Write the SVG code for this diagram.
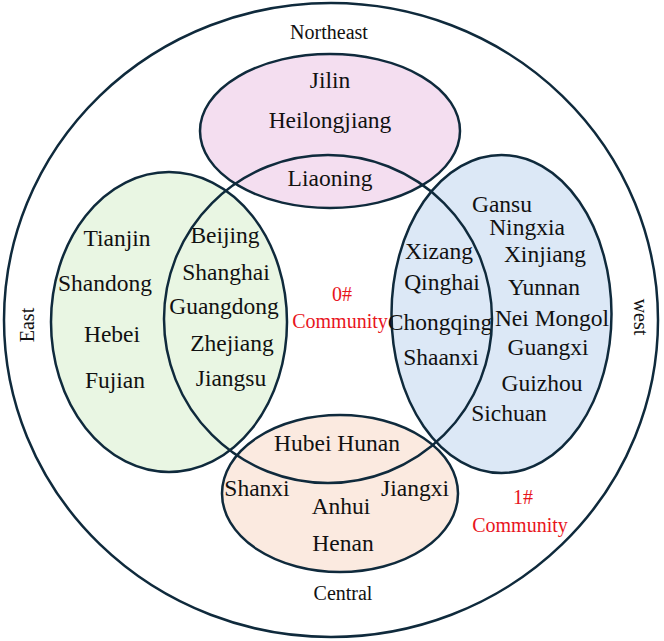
<svg xmlns="http://www.w3.org/2000/svg" width="664" height="641" viewBox="0 0 664 641">
<style>
.e{stroke:#0F2A3C;stroke-width:2.5}
text{font-family:'Liberation Serif','Times New Roman','DejaVu Serif',serif;text-anchor:middle}
.p{font-size:23.5px;fill:#111}
.l{font-size:20px;fill:#111}
.r{font-size:20px;fill:#E8141C}
</style>
<rect width="664" height="641" fill="#fff"/>
<g id="community1" font-family="Liberation Serif, serif">
<ellipse class="e" cx="331" cy="320" rx="327" ry="317" fill="none"/>
<text class="r" x="523" y="504">1#</text>
<text class="r" x="520" y="532">Community</text>
</g>
<g id="northeast" font-family="Liberation Serif, serif">
<ellipse class="e" cx="330" cy="131" rx="130" ry="77" fill="#F4DEF0"/>
<text class="l" x="329" y="39">Northeast</text>
<text class="p" x="330" y="88">Jilin</text>
<text class="p" x="330" y="128">Heilongjiang</text>
<text class="p" x="330" y="186">Liaoning</text>
</g>
<g id="east" font-family="Liberation Serif, serif">
<ellipse class="e" cx="169" cy="322" rx="118" ry="150" fill="#E9F6E3"/>
<text class="l" transform="translate(34 325) rotate(-90)">East</text>
<text class="p" x="117" y="246">Tianjin</text>
<text class="p" x="105" y="291">Shandong</text>
<text class="p" x="112" y="342">Hebei</text>
<text class="p" x="115" y="388">Fujian</text>
<text class="p" x="225" y="243">Beijing</text>
<text class="p" x="226" y="280">Shanghai</text>
<text class="p" x="224" y="314">Guangdong</text>
<text class="p" x="232" y="351">Zhejiang</text>
<text class="p" x="231" y="386">Jiangsu</text>
</g>
<g id="west" font-family="Liberation Serif, serif">
<ellipse class="e" cx="501.5" cy="314" rx="110" ry="159" fill="#DCE8F6"/>
<text class="l" transform="translate(634 317) rotate(90)">west</text>
<text class="p" x="502" y="212">Gansu</text>
<text class="p" x="527" y="235">Ningxia</text>
<text class="p" x="545" y="262">Xinjiang</text>
<text class="p" x="544" y="295">Yunnan</text>
<text class="p" x="552" y="326">Nei Mongol</text>
<text class="p" x="548" y="355">Guangxi</text>
<text class="p" x="542" y="391">Guizhou</text>
<text class="p" x="509" y="421">Sichuan</text>
<text class="p" x="439" y="259">Xizang</text>
<text class="p" x="442" y="290">Qinghai</text>
<text class="p" x="440" y="330">Chongqing</text>
<text class="p" x="441" y="365">Shaanxi</text>
</g>
<g id="central" font-family="Liberation Serif, serif">
<ellipse class="e" cx="340" cy="493.5" rx="118" ry="78.5" fill="#FBEAE0"/>
<text class="l" x="343" y="600">Central</text>
<text class="p" x="337" y="451">Hubei Hunan</text>
<text class="p" x="257" y="496">Shanxi</text>
<text class="p" x="415" y="496">Jiangxi</text>
<text class="p" x="341" y="514">Anhui</text>
<text class="p" x="343" y="551">Henan</text>
</g>
<g id="community0" font-family="Liberation Serif, serif">
<circle class="e" cx="328" cy="319" r="164" fill="none"/>
<text class="r" x="342" y="301">0#</text>
<text class="r" x="340" y="328">Community</text>
</g>
<g id="connectors"></g>
</svg>
